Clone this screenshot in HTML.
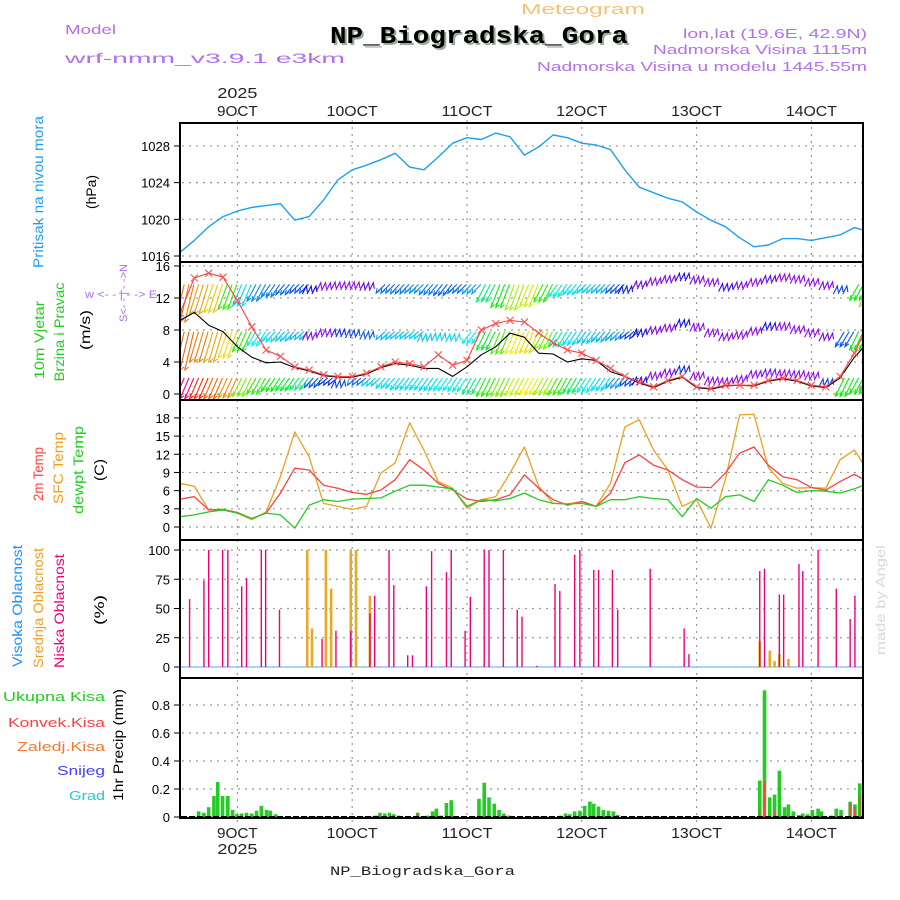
<!DOCTYPE html>
<html><head><meta charset="utf-8"><title>Meteogram NP_Biogradska_Gora</title>
<style>
html,body{margin:0;padding:0;background:#fff;}
svg{display:block;font-family:"Liberation Sans",sans-serif;}
</style></head>
<body>
<svg id="chart" xmlns="http://www.w3.org/2000/svg" width="900" height="900" viewBox="0 0 900 900">
<defs>
<clipPath id="cp1"><rect x="180" y="123" width="683" height="139"/></clipPath>
<clipPath id="cp2"><rect x="180" y="262" width="683" height="138"/></clipPath>
<clipPath id="cp3"><rect x="180" y="400" width="683" height="140"/></clipPath>
<clipPath id="cp4"><rect x="180" y="540" width="683" height="138"/></clipPath>
<clipPath id="cp5"><rect x="180" y="678" width="683" height="140"/></clipPath>
</defs>
<g>
<text x="65" y="34" fill="#b070f0" font-size="13" textLength="51" lengthAdjust="spacingAndGlyphs">Model</text>
<text x="65" y="63" fill="#b070f0" font-size="14" textLength="280" lengthAdjust="spacingAndGlyphs">wrf-nmm_v3.9.1 e3km</text>
<text x="521" y="14" fill="#f2c472" font-size="15" textLength="124" lengthAdjust="spacingAndGlyphs">Meteogram</text>
<text x="332" y="45" fill="#9aaa9a" font-family="Liberation Mono, monospace" font-weight="bold" font-size="24" textLength="298" lengthAdjust="spacingAndGlyphs">NP_Biogradska_Gora</text>
<text x="330" y="43" fill="#000" font-family="Liberation Mono, monospace" font-weight="bold" font-size="24" textLength="298" lengthAdjust="spacingAndGlyphs">NP_Biogradska_Gora</text>
<text x="683" y="38" fill="#b070f0" font-size="12.5" textLength="184" lengthAdjust="spacingAndGlyphs">lon,lat (19.6E, 42.9N)</text>
<text x="653" y="54" fill="#b070f0" font-size="12.5" textLength="214" lengthAdjust="spacingAndGlyphs">Nadmorska Visina 1115m</text>
<text x="537" y="71" fill="#b070f0" font-size="12.5" textLength="330" lengthAdjust="spacingAndGlyphs">Nadmorska Visina u modelu 1445.55m</text>
<text x="330" y="875" fill="#222" font-family="Liberation Mono, monospace" font-size="13" textLength="185" lengthAdjust="spacingAndGlyphs">NP_Biogradska_Gora</text>
<text transform="translate(885,600) rotate(-90)" text-anchor="middle" fill="#d4dcd4" font-size="13" textLength="110" lengthAdjust="spacingAndGlyphs">made by Angel</text>
</g>
<g>
<text transform="translate(43,192) rotate(-90)" text-anchor="middle" fill="#1ea0f0" font-size="14" textLength="152" lengthAdjust="spacingAndGlyphs">Pritisak na nivou mora</text>
<text transform="translate(96,192) rotate(-90)" text-anchor="middle" fill="#000" font-size="14" textLength="34" lengthAdjust="spacingAndGlyphs">(hPa)</text>
<text transform="translate(44,340) rotate(-90)" text-anchor="middle" fill="#22cc22" font-size="14" textLength="78" lengthAdjust="spacingAndGlyphs">10m Vjetar</text>
<text transform="translate(64,332) rotate(-90)" text-anchor="middle" fill="#22cc22" font-size="14" textLength="99" lengthAdjust="spacingAndGlyphs">Brzina i Pravac</text>
<text transform="translate(90,330) rotate(-90)" text-anchor="middle" fill="#000" font-size="14" textLength="40" lengthAdjust="spacingAndGlyphs">(m/s)</text>
<text x="85" y="298" fill="#b070f0" font-size="11" textLength="72" lengthAdjust="spacingAndGlyphs">w &lt;- - | - -&gt; E</text>
<text transform="translate(127,322) rotate(-90)" fill="#b070f0" font-size="11" textLength="58" lengthAdjust="spacingAndGlyphs">S&lt;- - | - -&gt;N</text>
<text transform="translate(43,474) rotate(-90)" text-anchor="middle" fill="#ff4040" font-size="14" textLength="54" lengthAdjust="spacingAndGlyphs">2m Temp</text>
<text transform="translate(63,468) rotate(-90)" text-anchor="middle" fill="#eea020" font-size="14" textLength="72" lengthAdjust="spacingAndGlyphs">SFC Temp</text>
<text transform="translate(83,470) rotate(-90)" text-anchor="middle" fill="#22cc22" font-size="14" textLength="88" lengthAdjust="spacingAndGlyphs">dewpt Temp</text>
<text transform="translate(104,470) rotate(-90)" text-anchor="middle" fill="#000" font-size="14" textLength="22" lengthAdjust="spacingAndGlyphs">(C)</text>
<text transform="translate(22,606) rotate(-90)" text-anchor="middle" fill="#1e90ff" font-size="14" textLength="122" lengthAdjust="spacingAndGlyphs">Visoka Oblacnost</text>
<text transform="translate(43,608) rotate(-90)" text-anchor="middle" fill="#eea020" font-size="14" textLength="120" lengthAdjust="spacingAndGlyphs">Srednja Oblacnost</text>
<text transform="translate(64,611) rotate(-90)" text-anchor="middle" fill="#ee0077" font-size="14" textLength="114" lengthAdjust="spacingAndGlyphs">Niska Oblacnost</text>
<text transform="translate(104,610) rotate(-90)" text-anchor="middle" fill="#000" font-size="14" textLength="30" lengthAdjust="spacingAndGlyphs">(%)</text>
<text x="3" y="701" fill="#22cc22" font-size="13" textLength="102" lengthAdjust="spacingAndGlyphs">Ukupna Kisa</text>
<text x="8" y="727" fill="#ff4040" font-size="13" textLength="97" lengthAdjust="spacingAndGlyphs">Konvek.Kisa</text>
<text x="17" y="751" fill="#f07830" font-size="13" textLength="88" lengthAdjust="spacingAndGlyphs">Zaledj.Kisa</text>
<text x="57" y="775" fill="#4040ff" font-size="13" textLength="48" lengthAdjust="spacingAndGlyphs">Snijeg</text>
<text x="69" y="800" fill="#22cccc" font-size="13" textLength="36" lengthAdjust="spacingAndGlyphs">Grad</text>
<text transform="translate(123,745) rotate(-90)" text-anchor="middle" fill="#000" font-size="14" textLength="112" lengthAdjust="spacingAndGlyphs">1hr Precip (mm)</text>
</g>
<g id="grid"></g>
<g id="marks"></g>
<g id="frames"></g>
<g id="ticks"></g>
</svg>
<script>
// ---- data (hours since 8 OCT 12 UTC) ----
const hours = [0,3,6,9,12,15,18,21,24,27,30,33,36,39,42,45,48,51,54,57,60,63,66,69,72,75,78,81,84,87,90,93,96,99,102,105,108,111,114,117,120,123,126,129,132,135,138,141,143];
const pressure = [1016.4,1017.7,1019.2,1020.3,1020.9,1021.3,1021.5,1021.7,1019.9,1020.3,1022.1,1024.3,1025.4,1025.9,1026.5,1027.2,1025.7,1025.4,1026.8,1028.3,1028.9,1028.7,1029.4,1029.0,1027.0,1027.9,1029.2,1028.9,1028.3,1028.1,1027.6,1025.4,1023.5,1022.9,1022.3,1021.9,1020.8,1019.9,1019.2,1018.0,1017.0,1017.2,1017.9,1017.9,1017.7,1018.0,1018.3,1019.1,1018.8];
const windGust = [10.1,14.5,15.1,14.6,11.7,8.4,5.5,4.7,3.4,3.0,2.4,2.2,2.2,2.6,3.4,4.0,3.8,3.4,4.9,3.6,4.2,8.0,8.8,9.2,9.0,7.6,6.4,5.5,5.1,4.2,3.2,2.2,1.5,0.9,1.7,2.2,0.9,0.7,1.1,1.1,1.1,1.7,2.0,1.7,1.1,0.9,2.2,5.1,7.6];
const windSpeed = [9.2,10.2,8.6,7.8,5.9,4.6,3.9,4.0,3.3,2.9,2.3,2.1,2.1,2.5,3.3,3.8,3.6,3.2,3.2,2.2,3.4,4.9,5.9,7.6,7.1,5.1,5.0,4.0,4.4,4.2,2.8,2.2,1.4,0.8,1.6,2.1,0.8,0.6,1.0,1.1,1.0,1.6,1.9,1.6,1.0,0.8,2.0,4.6,5.9];
const barbTopTips = [9.0,10.0,10.2,10.6,11.0,11.6,12.1,12.4,12.6,13.0,13.4,13.5,13.5,13.4,12.6,12.5,12.6,12.4,12.3,12.6,12.5,11.5,10.8,10.5,10.9,11.5,12.1,12.4,12.6,12.6,12.6,13.0,13.6,14.0,14.3,14.6,14.2,13.9,13.3,13.5,13.9,14.3,14.5,14.3,13.9,13.5,13.0,11.7,10.9];
const barbTopHue = [30,40,50,110,185,205,210,215,220,240,275,275,275,260,215,210,205,210,215,215,200,150,120,80,70,110,170,185,190,195,220,235,265,275,270,245,270,275,250,270,275,260,275,275,275,270,225,120,80];
const barbMidTips = [3.0,4.0,4.0,4.5,5.3,6.0,6.5,6.6,6.8,7.2,7.6,7.6,7.5,7.3,6.8,6.9,6.9,7.0,7.1,7.0,6.3,5.5,5.0,5.0,5.1,5.6,5.9,6.1,6.3,6.5,6.7,6.9,7.6,7.9,8.2,8.8,8.3,7.6,7.1,7.3,7.8,8.4,8.4,8.0,7.6,7.1,5.9,5.5,6.5];
const barbMidHue = [25,30,40,55,110,180,185,190,195,270,275,230,225,220,195,190,190,190,190,185,180,130,100,60,55,90,160,185,190,195,200,225,240,270,275,240,275,275,270,275,275,245,275,275,275,265,220,120,110];
const barbLowTips = [-0.6,-0.6,-0.6,-0.5,-0.3,0.0,0.3,0.4,0.5,0.8,1.1,1.2,1.1,1.0,0.7,0.5,0.5,0.4,0.4,0.3,0.0,-0.3,-0.3,-0.2,-0.1,-0.1,-0.1,0.1,0.2,0.4,0.7,1.0,1.6,2.2,2.6,3.0,2.2,1.6,1.5,1.8,2.4,2.6,2.5,2.4,2.2,1.4,-0.3,0.0,0.5];
const barbLowHue = [330,10,25,35,90,110,120,130,150,220,230,225,215,190,185,185,185,185,180,175,150,110,90,70,60,80,110,140,175,185,200,225,240,275,270,230,275,275,275,275,275,270,275,275,275,225,120,120,110];
const temp2m = [4.6,5.0,2.8,2.9,2.4,1.4,2.3,5.6,9.7,9.4,6.9,6.4,5.7,5.4,6.1,7.8,11.1,9.4,7.2,6.1,4.6,4.2,4.5,5.3,8.6,6.4,4.5,3.6,4.2,3.4,5.6,10.6,11.9,10.2,9.4,7.8,6.6,6.5,8.9,12.2,13.2,10.2,8.3,7.8,6.5,6.1,7.5,8.7,7.8];
const tempSfc = [7.2,6.7,2.8,2.9,2.3,1.2,2.5,8.3,15.7,11.6,3.9,3.4,2.9,3.4,8.9,10.6,17.2,12.7,7.5,6.4,3.1,4.5,5.0,8.9,13.2,6.7,3.9,3.8,4.2,3.4,7.2,16.5,17.7,12.7,9.4,3.4,4.5,-0.2,7.8,18.5,18.6,9.8,7.2,6.4,6.5,6.4,11.1,12.7,10.2];
const tempDew = [1.7,2.0,2.5,2.8,2.3,1.4,2.3,2.0,-0.2,3.6,4.5,4.2,4.6,4.7,4.8,5.9,6.9,6.9,6.6,6.3,3.4,4.5,4.3,4.7,5.6,4.5,3.9,3.8,3.9,3.4,4.5,4.5,5.0,4.7,4.5,1.7,4.7,3.1,5.0,5.3,4.2,7.8,6.9,5.7,6.0,5.9,5.6,6.3,6.9];
const cloudLowHours = [2,5,6,8.9,10,12.9,13.9,17,17.9,20.8,29.7,32.6,35.7,39.7,40.7,43.7,44.7,47.6,48.6,51.5,52.6,55.7,56.7,59.6,60.7,63.6,64.6,67.6,70.5,71.5,74.6,78.4,79.4,82.5,83.6,86.5,87.5,90.4,91.5,98.3,105.4,106.4,121.2,122.2,125.3,126.2,129.4,130.2,133.4,137.2,140.1,141.1];
const cloudLowValues = [58,74,100,100,100,69,76,100,100,49,24,31,31,46,61,100,70,10,10,69,99,81,100,31,60,100,100,100,49,43,1,71,65,96,100,83,83,83,49,84,33,11,82,84,62,62,88,82,100,67,41,61];
const cloudMidHours = [26.6,27.6,30.5,31.6,35.7,36.8,39.7,121.2,123.3,124.3,125.3,127.2];
const cloudMidValues = [100,33,100,67,100,100,61,22,14,5,11,7];
const precipHours = [3.9,5,6,7.1,7.9,8.9,10,11,11.9,12.9,13.9,15,16,17,18.1,18.9,20,40.9,41.8,42.8,43.8,44.7,45.7,49.7,51.7,52.8,53.6,54.6,55.7,56.7,62.5,63.6,64.6,65.7,66.7,67.7,68.8,79.6,80.6,81.5,82.5,83.6,84.6,85.7,86.5,87.5,88.5,89.6,90.6,91.5,121.2,122.2,123.3,124.3,125.3,126.4,127.2,128.2,129.4,130.2,131.2,132.2,133.4,134.1,136.1,137.2,138.2,140.1,141.1,142.1];
const precipTotal = [0.04,0.03,0.07,0.15,0.25,0.15,0.15,0.05,0.02,0.025,0.03,0.025,0.045,0.08,0.05,0.045,0.02,0.01,0.03,0.025,0.03,0.02,0.01,0.03,0.01,0.04,0.06,0.01,0.10,0.12,0.13,0.245,0.14,0.095,0.05,0.025,0.01,0.01,0.025,0.02,0.04,0.045,0.08,0.11,0.095,0.075,0.05,0.045,0.04,0.015,0.26,0.905,0.14,0.16,0.33,0.07,0.09,0.04,0.015,0.025,0.02,0.05,0.06,0.04,0.01,0.06,0.05,0.11,0.09,0.24];
const convHours = [49.7,121.2,122.2,124.3,140.1,141.1,142.1];
const convValues = [0.03,0.05,0.26,0.04,0.10,0.07,0.16];
const dayHours = [12,36,60,84,108,132];
const dayLabels = ["9OCT","10OCT","11OCT","12OCT","13OCT","14OCT"];
const pressureTicks = [1016,1020,1024,1028];
const windTicks = [0,4,8,12,16];
const tempTicks = [0,3,6,9,12,15,18];
const cloudTicks = [0,25,50,75,100];
const precipTicks = [0,0.2,0.4,0.6,0.8];
const precipTickLabels = ["0","0.2","0.4","0.6","0.8"];

// ---- scales ----
const X = h => 180 + h * 4.7833;
const yP = p => 256 - (p - 1016) * 9.17;
const yW = v => 394 - v * 8;
const yT = t => 527 - t * 6.06;
const yC = c => 667 - c * 1.17;
const yR = r => 817 - r * 140;

const NS = "http://www.w3.org/2000/svg";
function el(tag, parent, attrs) {
  const e = document.createElementNS(NS, tag);
  for (const k in attrs) e.setAttribute(k, attrs[k]);
  parent.appendChild(e);
  return e;
}
const grid = document.getElementById('grid');
const marks = document.getElementById('marks');
const frames = document.getElementById('frames');
const ticks = document.getElementById('ticks');
const panels = [[123,262],[262,400],[400,540],[540,678],[678,818]];

dayHours.forEach((d, i) => {
  const g = el('line', grid, {x1: X(d), x2: X(d), y1: 113, y2: 822, stroke: '#999', 'stroke-width': 1.2, 'stroke-dasharray': '2,5'});
  
  
  const t1 = el('text', ticks, {x: X(d), y: 116, 'text-anchor': 'middle', 'font-size': 15, fill: '#222', textLength: dayLabels[i].length * 10.2, lengthAdjust: 'spacingAndGlyphs'});
  t1.textContent = dayLabels[i];
  
  
  const t2 = el('text', ticks, {x: X(d), y: 838, 'text-anchor': 'middle', 'font-size': 15, fill: '#222', textLength: dayLabels[i].length * 10.2, lengthAdjust: 'spacingAndGlyphs'});
  t2.textContent = dayLabels[i];
  
  
});
const yr1 = el('text', ticks, {x: X(12), y: 98, 'text-anchor': 'middle', 'font-size': 15, fill: '#222', textLength: 40, lengthAdjust: 'spacingAndGlyphs'});
yr1.textContent = '2025';


const yr2 = el('text', ticks, {x: X(12), y: 854, 'text-anchor': 'middle', 'font-size': 15, fill: '#222', textLength: 40, lengthAdjust: 'spacingAndGlyphs'});
yr2.textContent = '2025';



function yAxis(vals, labels, fy, name) {
  vals.forEach((v, i) => {
    const y = fy(v);
    const gl = el('line', grid, {x1: 182, x2: 862, y1: y, y2: y, stroke: '#999', 'stroke-width': 1.2, 'stroke-dasharray': '2,5'});
    
    
    const tk = el('line', frames, {x1: 174, x2: 180, y1: y, y2: y, stroke: '#000', 'stroke-width': 1});
    
    
    const tx = el('text', ticks, {x: 170, y: y + 5, 'text-anchor': 'end', 'font-size': 13, fill: '#000'});
    tx.textContent = labels[i];
    
    
  });
}
yAxis(pressureTicks, pressureTicks.map(String), yP, 'pressure');
yAxis(windTicks, windTicks.map(String), yW, 'wind');
yAxis(tempTicks, tempTicks.map(String), yT, 'temp');
yAxis(cloudTicks, cloudTicks.map(String), yC, 'cloud');
yAxis(precipTicks, precipTickLabels, yR, 'precip');

function series(vals, fy, color, width, clip, name) {
  const pts = vals.map((v, i) => X(hours[i]).toFixed(1) + ',' + fy(v).toFixed(1)).join(' ');
  const p = el('polyline', marks, {points: pts, fill: 'none', stroke: color, 'stroke-width': width, 'stroke-linejoin': 'round', 'clip-path': 'url(#' + clip + ')'});
  
  
  return p;
}

series(pressure, yP, '#1ea0f0', 1.4, 'cp1', 'pressure-line');

const gW = el('g', marks, {'clip-path': 'url(#cp2)'});


function barbs(tips, hues, topVal, name) {
  tips.forEach((v, i) => {
    const x = X(hours[i]);
    const col = 'hsl(' + hues[i] + ',95%,48%)';
    [-4.78, 0, 4.78].forEach(dx => {
      const xx = x + dx;
      const yt = yW(v);
      let b;
      if (v < topVal - 0.8) {
        b = el('line', gW, {x1: xx, y1: yt, x2: xx + 9, y2: yW(topVal), stroke: col, 'stroke-width': 1.1});
        const ah = el('path', gW, {d: 'M' + (xx + 1) + ',' + (yt - 5) + 'L' + xx + ',' + yt + 'L' + (xx + 4) + ',' + (yt - 3), fill: 'none', stroke: col, 'stroke-width': 1});
        
        
      } else {
        b = el('polyline', gW, {points: (xx - 2) + ',' + (yt + 4) + ' ' + (xx + 2) + ',' + (yt - 4) + ' ' + (xx + 3) + ',' + (yt + 2), fill: 'none', stroke: col, 'stroke-width': 1.1});
      }
      
      
    });
  });
}
barbs(barbTopTips, barbTopHue, 13.7, 'barb-top-row');
barbs(barbMidTips, barbMidHue, 7.8, 'barb-mid-row');
barbs(barbLowTips, barbLowHue, 2.0, 'barb-low-row');

series(windSpeed, yW, '#000', 1.1, 'cp2', 'wind-speed-line');
series(windGust, yW, '#ff4040', 1.1, 'cp2', 'wind-gust-line');
windGust.forEach((v, i) => {
  const x = X(hours[i]), y = yW(v);
  const m = el('path', marks, {d: 'M' + (x - 3.5) + ',' + (y - 3.5) + 'l7,7M' + (x - 3.5) + ',' + (y + 3.5) + 'l7,-7', stroke: '#ff5050', 'stroke-width': 1.1, 'clip-path': 'url(#cp2)'});
  
  
});

series(tempSfc, yT, '#eea020', 1.3, 'cp3', 'sfc-temp-line');
series(temp2m, yT, '#ff4040', 1.3, 'cp3', 'temp-2m-line');
series(tempDew, yT, '#22cc22', 1.3, 'cp3', 'dewpoint-line');

const cb = el('line', marks, {x1: 181, x2: 862, y1: yC(0), y2: yC(0), stroke: '#8fc8f0', 'stroke-width': 1.5});


cloudMidHours.forEach((h, i) => {
  const b = el('rect', marks, {x: X(h) - 1.3, y: yC(cloudMidValues[i]), width: 2.6, height: yC(0) - yC(cloudMidValues[i]), fill: '#e8a828', 'clip-path': 'url(#cp4)'});
  
  
});
cloudLowHours.forEach((h, i) => {
  const b = el('rect', marks, {x: X(h) - 0.7, y: yC(cloudLowValues[i]), width: 1.4, height: yC(0) - yC(cloudLowValues[i]), fill: '#ee0077', 'clip-path': 'url(#cp4)'});
  
  
});

precipHours.forEach((h, i) => {
  const b = el('rect', marks, {x: X(h) - 1.8, y: yR(precipTotal[i]), width: 3.6, height: yR(0) - yR(precipTotal[i]), fill: '#22cc22', 'clip-path': 'url(#cp5)'});
  
  
});
convHours.forEach((h, i) => {
  const b = el('rect', marks, {x: X(h) - 0.8, y: yR(convValues[i]), width: 1.6, height: yR(0) - yR(convValues[i]), fill: '#ff4040', 'clip-path': 'url(#cp5)'});
  
  
});
const pb = el('line', marks, {x1: 181, x2: 862, y1: 817, y2: 817, stroke: '#000', 'stroke-width': 2, 'stroke-dasharray': '6,2'});



panels.forEach((p, i) => {
  const r = el('rect', frames, {x: 180, y: p[0], width: 683, height: p[1] - p[0], fill: 'none', stroke: '#000', 'stroke-width': 2});
  
  
});
</script>
</body></html>
